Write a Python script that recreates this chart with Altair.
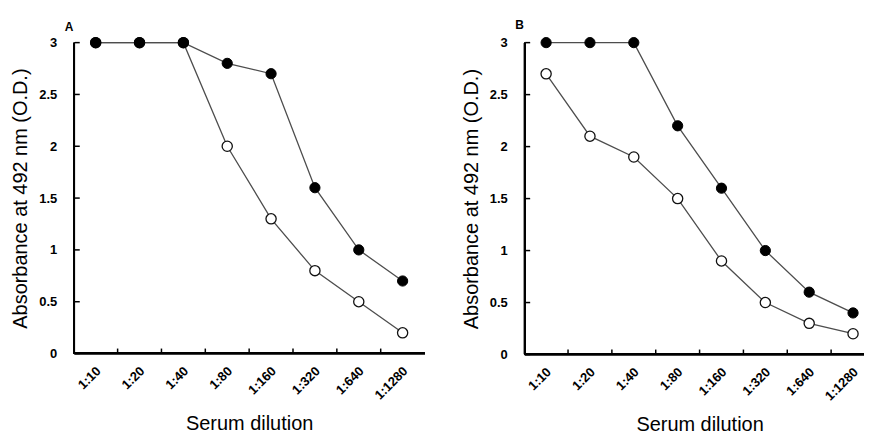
import altair as alt
import pandas as pd

dilutions = ["1:10", "1:20", "1:40", "1:80", "1:160", "1:320", "1:640", "1:1280"]
a_filled = [3.0, 3.0, 3.0, 2.8, 2.7, 1.6, 1.0, 0.7]
a_open = [3.0, 3.0, 3.0, 2.0, 1.3, 0.8, 0.5, 0.2]
b_filled = [3.0, 3.0, 3.0, 2.2, 1.6, 1.0, 0.6, 0.4]
b_open = [2.7, 2.1, 1.9, 1.5, 0.9, 0.5, 0.3, 0.2]
y_ticks = [0, 0.5, 1, 1.5, 2, 2.5, 3]

FONT = "Liberation Sans"


def panel(filled, opened, label, w, h, toff):
    df = pd.DataFrame({
        "dilution": dilutions * 2,
        "od": filled + opened,
        "series": ["filled"] * len(filled) + ["open"] * len(opened),
    })
    xscale = alt.Scale(domain=dilutions, paddingInner=0, paddingOuter=0)
    yscale = alt.Scale(domain=[0, 3], nice=False)
    x = alt.X(
        "dilution:N", sort=dilutions, scale=xscale,
        axis=alt.Axis(
            title="Serum dilution", labelAngle=-45, labelAlign="right",
            labelBaseline="middle", ticks=False, labelPadding=15, labelOffset=3,
            titlePadding=12, domain=True, domainColor="black", domainWidth=1.5,
        ),
    )
    y = alt.Y(
        "od:Q", scale=yscale,
        axis=alt.Axis(
            values=y_ticks, format="~g", grid=False,
            title="Absorbance at 492 nm (O.D.)",
            ticks=False, labelPadding=17, titlePadding=8,
            domain=True, domainColor="black", domainWidth=1.5,
        ),
    )
    base = alt.Chart(df)
    line = base.mark_line(color="#4d4d4d", strokeWidth=1.3).encode(
        x=x, y=y, detail="series:N")
    open_pts = base.transform_filter(alt.datum.series == "open").mark_point(
        shape="circle", filled=True, fill="white", stroke="#111",
        strokeWidth=1.3, size=105, opacity=1).encode(x=x, y=y)
    fill_pts = base.transform_filter(alt.datum.series == "filled").mark_point(
        shape="circle", filled=True, fill="black", stroke="black",
        strokeWidth=1, size=105, opacity=1).encode(x=x, y=y)

    ytick_df = pd.DataFrame({"od": y_ticks})
    yticks = alt.Chart(ytick_df).mark_rule(color="black", strokeWidth=1.5).encode(
        y=alt.Y("od:Q", scale=yscale), x=alt.value(1), x2=alt.value(6))
    xtick_df = pd.DataFrame({"dilution": dilutions[1:]})
    xticks = alt.Chart(xtick_df).mark_rule(color="black", strokeWidth=1.5).encode(
        x=alt.X("dilution:N", scale=xscale, bandPosition=0),
        y=alt.value(h), y2=alt.value(h - 5))
    yaxis_line = alt.Chart(ytick_df).mark_rule(color="black", strokeWidth=1.5).encode(
        x=alt.value(0.5), y=alt.value(0), y2=alt.value(h))
    xaxis_line = alt.Chart(xtick_df).mark_rule(color="black", strokeWidth=1.5).encode(
        y=alt.value(h - 0.5), x=alt.value(0), x2=alt.value(w))

    return alt.layer(yticks, xticks, yaxis_line, xaxis_line, line, open_pts,
                     fill_pts).properties(
        width=w, height=h,
        title=alt.TitleParams(text=label, anchor="start", frame="group", dx=-9,
                              fontSize=12, fontWeight="bold", font=FONT,
                              offset=toff),
    )


chart = alt.hconcat(
    panel(a_filled, a_open, "A", 352, 312, 1),
    panel(b_filled, b_open, "B", 352, 313, 4),
    spacing=35,
).properties(
    padding={"left": 2, "top": 9, "right": -12, "bottom": 0},
    background="white",
).configure_view(strokeWidth=0).configure_axis(
    labelFont=FONT, labelFontSize=13, labelFontWeight="bold", labelColor="black",
    titleFont=FONT, titleFontSize=20, titleFontWeight="normal", titleColor="black",
)

chart.save("out.html", embed_options={"renderer": "svg", "actions": False})
